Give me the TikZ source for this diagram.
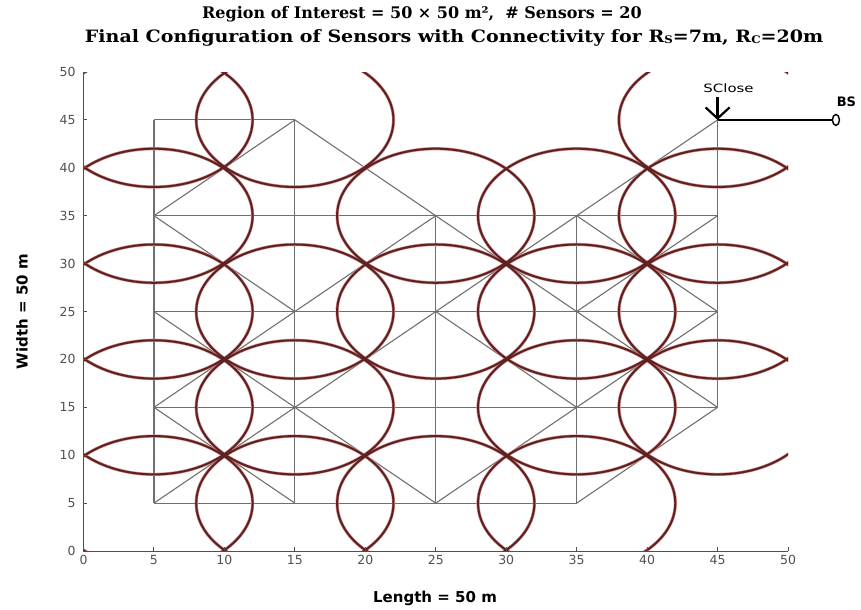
\documentclass[tikz,border=0pt]{standalone}
\usepackage{fontspec}
\setmainfont{DejaVu Serif}
\setsansfont{DejaVu Sans}
\usetikzlibrary{arrows.meta, positioning, shapes.geometric}
\definecolor{SensorRed}{RGB}{92,34,34}
\definecolor{HaloRed}{RGB}{214,140,140}
\definecolor{LinkGray}{RGB}{112,112,112}
\definecolor{AxisGray}{RGB}{80,80,80}
\newcommand{\lowcap}[1]{\raisebox{-1.5pt}{\fontsize{10.5}{10.5}\selectfont #1}}

\begin{document}
\begin{tikzpicture}[
  x=14.09pt, y=9.58pt,
  halo/.style={draw=HaloRed, line width=3.2pt},
  sensing/.style={draw=SensorRed, line width=2pt},
  link/.style={draw=LinkGray, line width=1.1pt},
  axisline/.style={draw=AxisGray, line width=1pt},
  ticklabel/.style={font=\sffamily\fontsize{12.5}{14}\selectfont, text=AxisGray, inner sep=0pt},
  axislabel/.style={font=\sffamily\bfseries\fontsize{15}{17}\selectfont, inner sep=0pt},
  titletext/.style={font=\bfseries\fontsize{16}{19}\selectfont, inner sep=0pt},
  closearrow/.style={-{Straight Barb[length=11pt, width=24pt]}, line width=2.2pt},
  bslink/.style={line width=2.6pt},
  bsmark/.style={ellipse, draw, line width=1.4pt, minimum width=7pt,
                 minimum height=11pt, inner sep=0pt},
  bslabel/.style={font=\sffamily\bfseries\fontsize{13}{15}\selectfont, inner sep=0pt},
  smalllabel/.style={font=\sffamily\fontsize{11.5}{14}\selectfont, inner sep=0pt},
]
\useasboundingbox (-5.926,-6.054) rectangle (55.18,57.52);

\coordinate (s15) at (5,45);  \coordinate (s25) at (15,45); \coordinate (s55) at (45,45);
\coordinate (s14) at (5,35);  \coordinate (s34) at (25,35); \coordinate (s44) at (35,35);
\coordinate (s54) at (45,35);
\coordinate (s13) at (5,25);  \coordinate (s23) at (15,25); \coordinate (s33) at (25,25);
\coordinate (s43) at (35,25); \coordinate (s53) at (45,25);
\coordinate (s12) at (5,15);  \coordinate (s22) at (15,15); \coordinate (s42) at (35,15);
\coordinate (s52) at (45,15);
\coordinate (s11) at (5,5);   \coordinate (s21) at (15,5);  \coordinate (s31) at (25,5);
\coordinate (s41) at (35,5);

\foreach \a/\b in {s15/s25, s14/s34, s34/s44, s44/s54, s13/s23, s23/s33, s33/s43,
                   s43/s53, s12/s22, s22/s42, s42/s52, s11/s21, s21/s31, s31/s41,
                   s15/s14, s14/s13, s13/s12, s12/s11, s25/s23, s23/s22, s22/s21,
                   s34/s33, s33/s31, s44/s43, s43/s42, s42/s41, s55/s54, s54/s53,
                   s53/s52, s25/s34, s14/s25, s14/s23, s34/s43, s44/s55, s44/s53,
                   s13/s22, s23/s34, s33/s44, s33/s42, s43/s54, s43/s52, s12/s23,
                   s12/s21, s22/s33, s22/s31, s42/s53, s11/s22, s31/s42, s41/s52}
  \draw[link] (\a) -- (\b);

\begin{scope}
  \clip (0,0) rectangle (50,50);
  \foreach \s in {s15,s25,s55,s14,s34,s44,s54,s13,s23,s33,s43,s53,
                  s12,s22,s42,s52,s11,s21,s31,s41}
    \draw[halo] (\s) circle[radius=7];
  \foreach \s in {s15,s25,s55,s14,s34,s44,s54,s13,s23,s33,s43,s53,
                  s12,s22,s42,s52,s11,s21,s31,s41}
    \draw[sensing] (\s) circle[radius=7];
\end{scope}

\draw[axisline] (0,50) -- (0,0) -- (50,0);
\foreach \t in {0,5,...,50} {
  \draw[axisline] (0,\t) -- ++(4pt,0);
  \draw[axisline] (\t,0) -- ++(0,4pt);
  \node[ticklabel, anchor=east] at (-0.55,\t) {\t};
  \node[ticklabel, anchor=north] at (\t,-0.45) {\t};
}

\node[axislabel, rotate=90] (ylab) at (-4.36,25) {Width = 50 m};
\node[axislabel] (xlab) at (24.95,-4.9) {Length = 50 m};

\node[titletext] (title1) at (24.02,56.05) {Region of Interest = 50 × 50 m², \ \# Sensors = 20};
\node[titletext] (title2) at (26.3,53.6)
  {\scalebox{1.12}[1]{\fontsize{17}{19}\selectfont Final Configuration of Sensors with
   Connectivity for R\lowcap{S}=7m, R\lowcap{C}=20m}};

\coordinate (sctail) at (45,47.4);
\draw[closearrow] (sctail) -- (s55);
\node[smalllabel, above=4pt of sctail, xshift=11pt] (sclabel) {\scalebox{1.3}[1]{SClose}};

\node[bsmark] (bs) at (53.4,45) {};
\draw[bslink] (s55) -- (bs);
\node[bslabel, anchor=west] (bstext) at (53.45,46.9) {BS};

\end{tikzpicture}
\end{document}
